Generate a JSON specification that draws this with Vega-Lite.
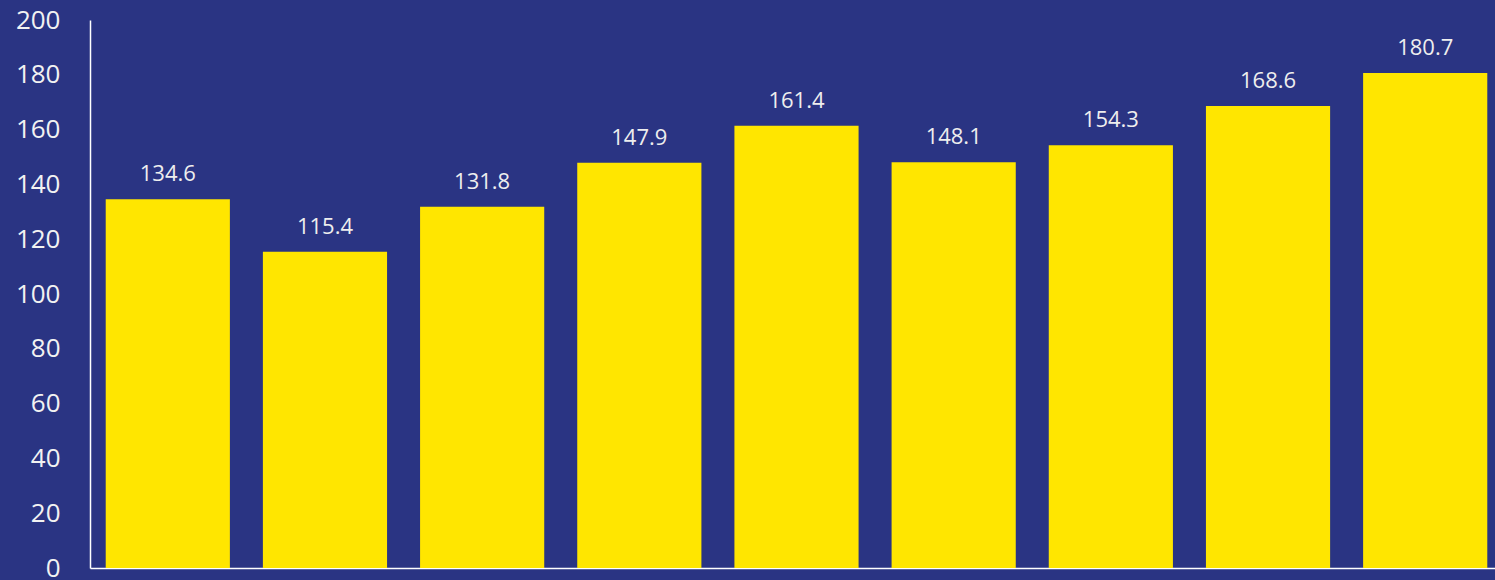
{
  "$schema": "https://vega.github.io/schema/vega-lite/v6.json",
  "width": 1413,
  "height": 548,
  "autosize": {"type": "none"},
  "padding": {"left": 90, "top": 20, "right": 0, "bottom": 12},
  "background": "#2A3483",
  "config": {
    "view": {"stroke": null},
    "font": "Open Sans"
  },
  "data": {
    "values": [
      {"cat": "1", "value": 134.6},
      {"cat": "2", "value": 115.4},
      {"cat": "3", "value": 131.8},
      {"cat": "4", "value": 147.9},
      {"cat": "5", "value": 161.4},
      {"cat": "6", "value": 148.1},
      {"cat": "7", "value": 154.3},
      {"cat": "8", "value": 168.6},
      {"cat": "9", "value": 180.7}
    ]
  },
  "encoding": {
    "x": {
      "field": "cat",
      "type": "nominal",
      "sort": null,
      "scale": {"paddingInner": 0.21, "paddingOuter": 0.1},
      "axis": {
        "title": null,
        "labels": false,
        "ticks": false,
        "domain": true,
        "domainColor": "#FFFFFF",
        "domainWidth": 1.5
      }
    },
    "y": {
      "field": "value",
      "type": "quantitative",
      "scale": {"domain": [0, 200], "nice": false},
      "axis": {
        "title": null,
        "values": [0, 20, 40, 60, 80, 100, 120, 140, 160, 180, 200],
        "grid": false,
        "ticks": false,
        "domain": true,
        "domainColor": "#FFFFFF",
        "domainWidth": 1.5,
        "labelColor": "#F2F2F2",
        "labelFontSize": 26,
        "labelPadding": 30,
        "labelFont": "Open Sans"
      }
    }
  },
  "layer": [
    {"mark": {"type": "bar", "color": "#FFE600"}},
    {
      "mark": {
        "type": "text",
        "color": "#EEEEEE",
        "fontSize": 22,
        "baseline": "alphabetic",
        "dy": -18,
        "font": "Open Sans"
      },
      "encoding": {"text": {"field": "value", "type": "quantitative", "format": ".1f"}}
    }
  ]
}
